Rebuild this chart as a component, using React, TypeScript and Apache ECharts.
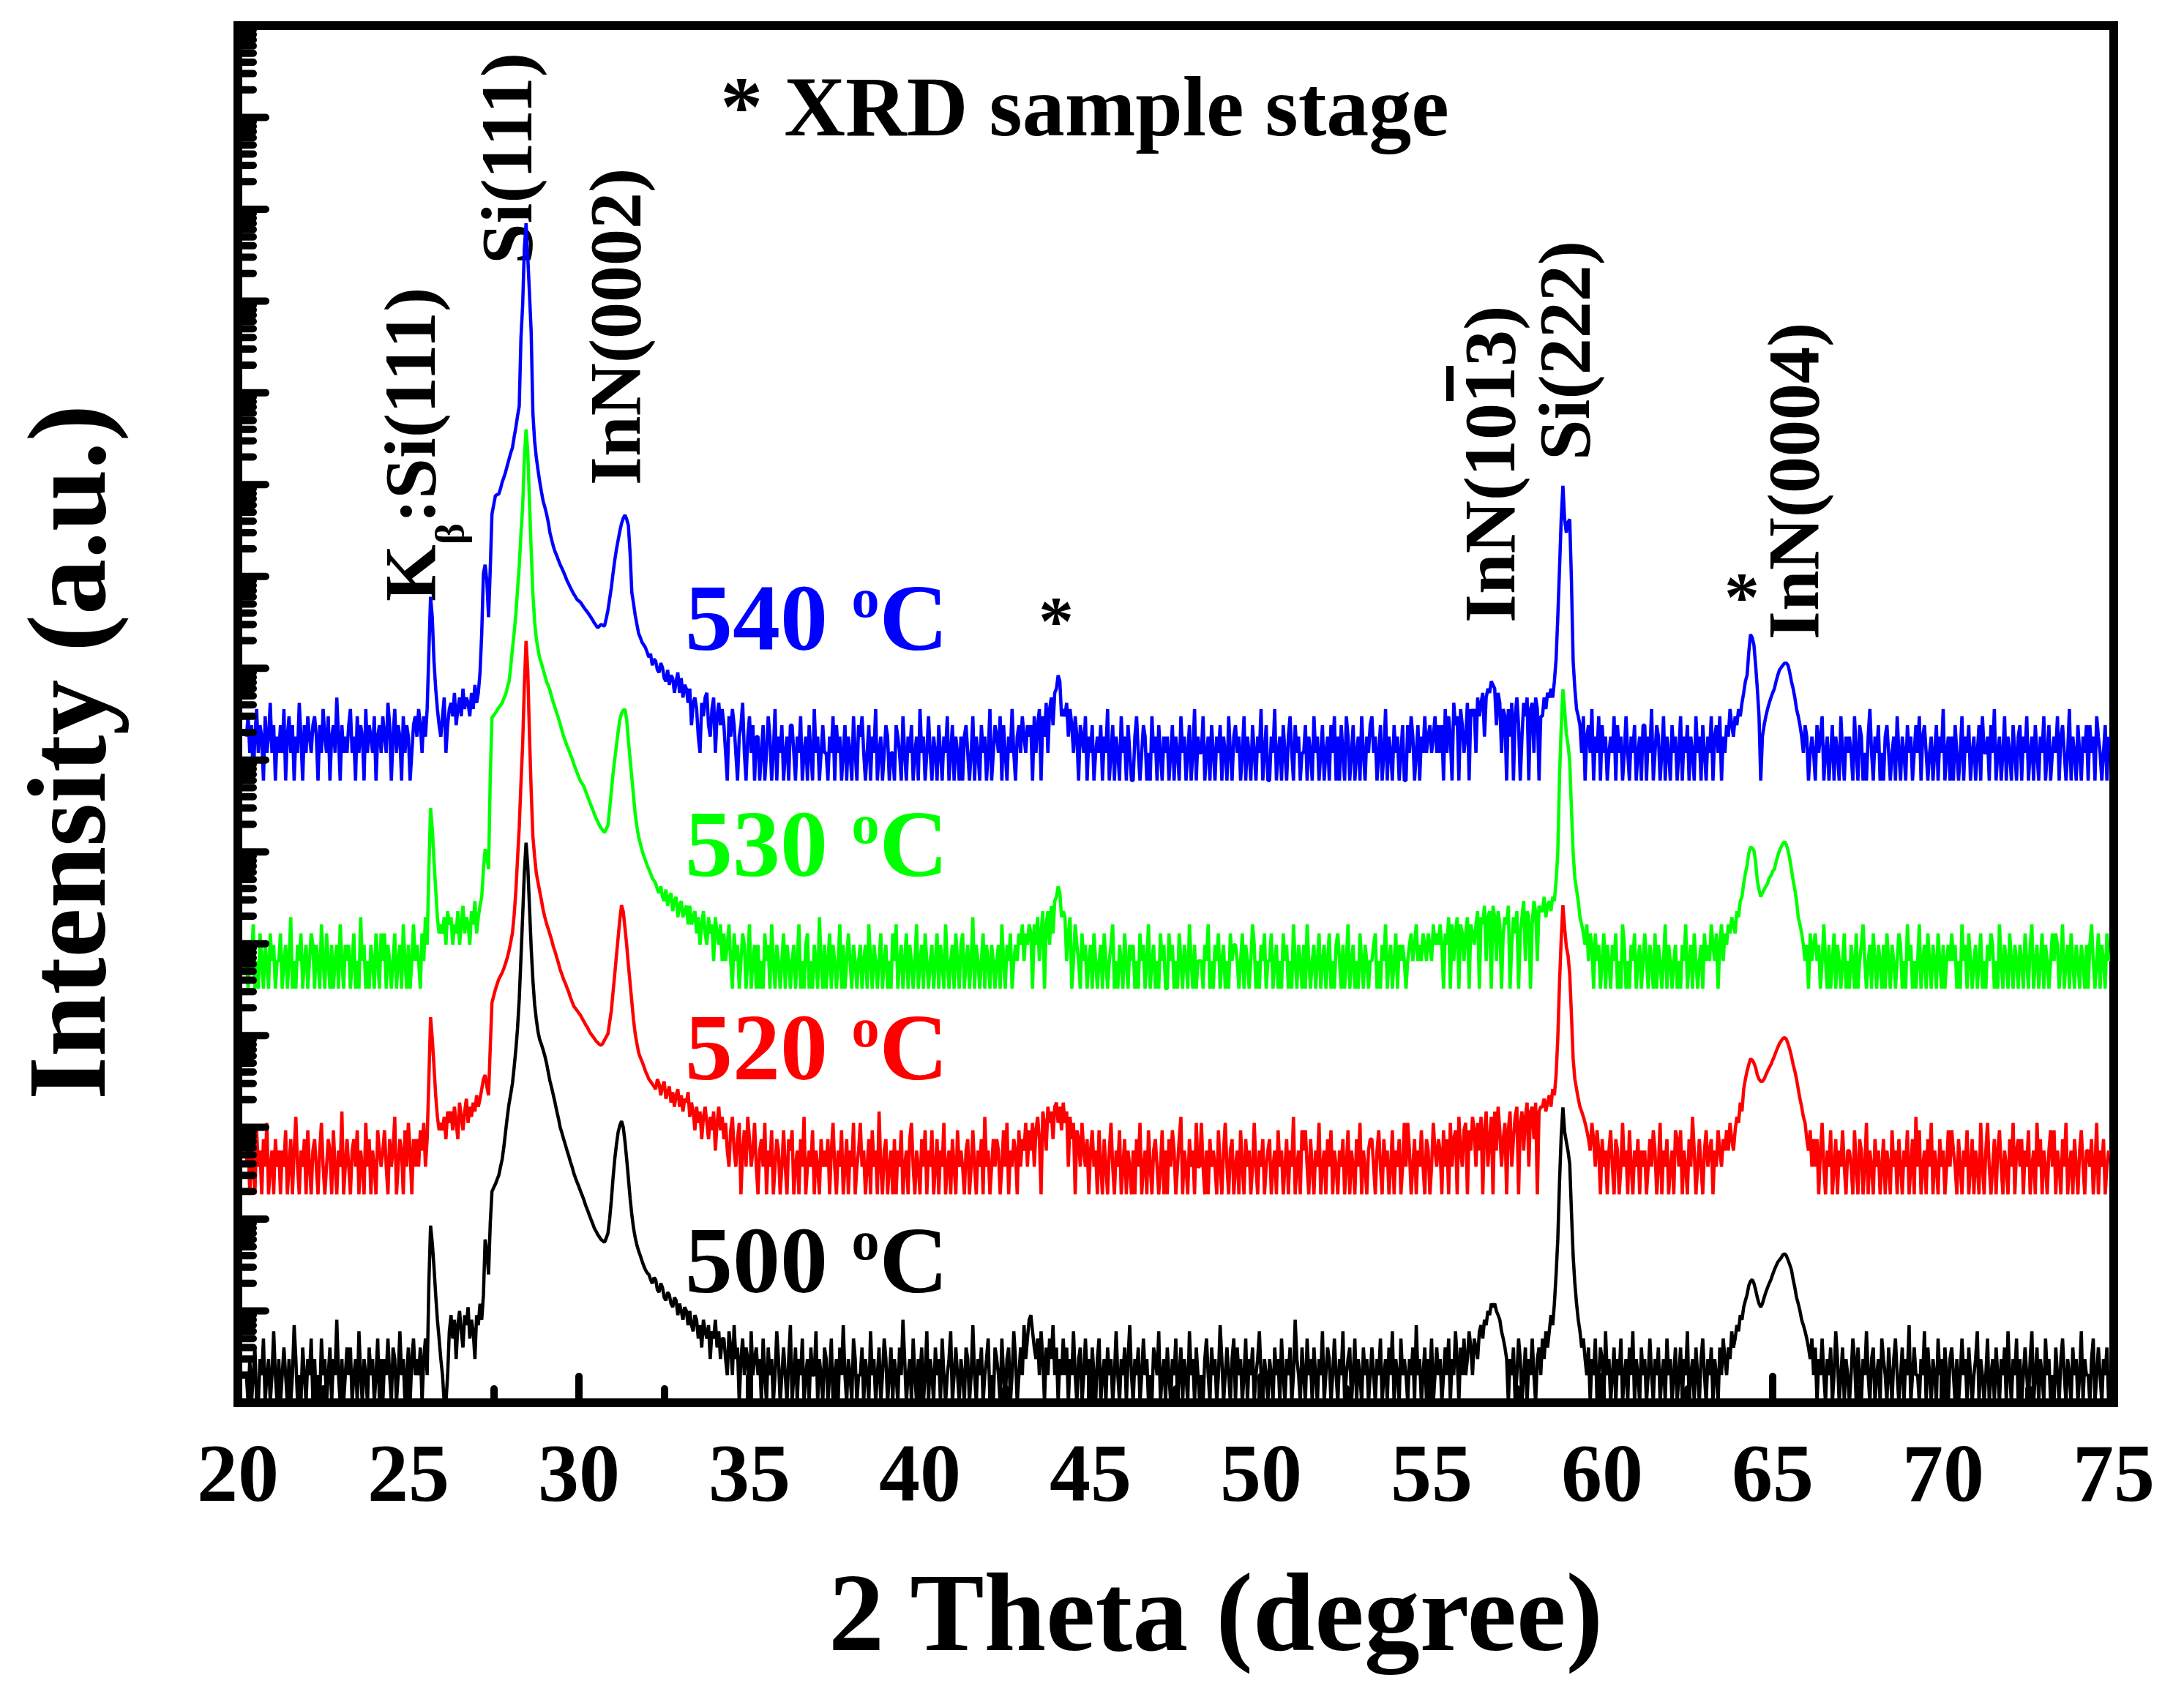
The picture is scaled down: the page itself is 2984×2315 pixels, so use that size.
import React, { useEffect, useRef } from 'react';
import * as echarts from 'echarts';

// ---- data: counts, x grid 20.25 .. 74.85 step 0.05 ----
const X_START = 20.25;
const X_STEP = 0.05;

const COUNTS_500 = [
  2,1,3,1,2,4,1,1,3,2,5,1,2,3,1,2,6,2,1,3,
  1,2,4,2,1,3,1,2,7,3,1,2,1,4,2,1,3,2,5,1,
  3,1,2,1,5,2,3,1,2,4,1,3,2,8,2,1,3,1,2,4,
  2,4,1,2,3,1,6,2,1,3,2,1,4,2,3,1,2,5,1,3,
  1,3,2,5,2,1,4,3,1,2,6,2,3,1,2,4,1,3,5,2,
  3,2,4,1,3,5,2,20,85,55,30,15,8,5,3,2,1,1,2,6,
  9,5,8,3,7,10,6,4,9,7,11,5,8,6,3,9,7,12,8,15,
  60,45,25,90,200,220,240,270,300,370,450,620,900,1300,1800,2300,3000,4500,7000,12000,
  25000,70000,200000,600000,1260000,700000,250000,90000,40000,22000,15000,11000,9000,8000,7000,6000,5000,4000,3200,2700,
  2240,1850,1500,1250,1000,870,750,650,560,490,420,370,316,280,250,225,200,180,160,140,
  126,112,100,90,80,74,68,64,60,58,56,62,70,100,160,280,450,650,890,1050,
  1170,1000,700,450,280,170,112,80,63,52,45,40,35,31,28,26,25,22,20,23,
  22,17,16,20,18,14,13,16,15,12,11,14,13,9,12,10,8,11,10,7,
  10,7,6,9,8,5,7,4,8,6,5,7,3,6,5,8,4,6,3,5,
  5,3,2,6,4,2,7,3,4,1,3,5,2,4,3,1,6,2,3,4,
  2,3,1,5,2,1,4,2,3,1,2,6,3,1,2,4,2,1,3,7,
  1,2,4,1,3,2,5,1,2,3,1,4,2,2,6,1,3,2,1,4,
  3,1,2,5,1,2,3,1,4,2,7,2,1,3,2,1,5,3,1,2,
  2,4,1,3,2,1,6,2,3,1,2,4,1,2,5,3,1,2,4,1,
  3,2,1,4,2,8,3,1,2,3,1,5,2,1,3,2,4,1,2,6,
  1,3,2,1,4,2,3,1,5,2,1,2,3,6,1,2,4,2,1,3,
  2,1,4,3,1,2,7,2,1,3,2,4,1,2,3,5,1,2,1,4,
  3,2,1,5,2,1,3,4,1,2,6,3,1,2,4,2,7,3,5,8,
  9,6,4,3,5,2,6,3,1,4,2,5,3,7,2,4,1,3,2,5,
  2,4,1,3,2,6,2,1,3,4,1,2,5,2,3,1,4,2,1,3,
  5,1,2,3,1,4,2,3,1,2,6,2,1,3,2,4,1,3,7,2,
  1,3,2,4,1,2,5,2,3,1,2,1,4,3,2,6,1,2,3,1,
  4,2,1,3,2,5,1,2,4,1,3,2,1,6,2,3,1,4,2,1,
  2,1,3,5,2,1,4,2,3,1,2,7,3,1,2,4,2,1,3,5,
  1,4,2,3,1,2,5,1,3,2,4,1,2,3,6,2,1,3,2,1,
  3,2,1,4,2,3,1,5,2,1,3,2,4,1,2,8,3,2,1,4,
  2,1,5,2,3,1,4,2,1,3,2,6,1,2,4,3,1,2,5,2,
  1,3,2,6,1,2,3,4,1,2,5,1,3,2,1,4,2,3,1,2,
  4,2,1,3,2,5,1,2,3,1,4,2,6,1,3,2,1,5,2,3,
  2,1,3,2,4,1,7,2,3,1,2,4,1,3,2,5,1,2,4,2,
  3,1,2,4,2,5,1,3,2,6,3,1,4,2,5,2,3,6,4,2,
  5,4,3,6,7,5,8,7,10,9,12,11,12,10,9,8,6,5,4,3,
  1,3,2,4,1,2,5,3,1,2,4,1,3,2,5,2,1,3,4,2,
  5,3,6,4,6,9,7,12,25,60,250,800,1650,900,700,550,400,120,40,20,
  12,8,6,4,5,3,2,4,1,3,2,5,1,2,4,3,1,6,2,3,
  1,2,4,1,3,2,5,1,2,3,1,4,2,6,1,3,2,1,4,2,
  3,1,2,5,2,1,3,2,4,1,2,3,1,5,2,3,1,2,4,1,
  2,4,1,3,2,6,1,2,3,1,4,2,1,3,5,2,1,3,2,4,
  1,3,2,1,4,2,5,3,2,4,3,6,4,5,7,6,9,8,11,13,
  15,19,21,22,20,17,14,12,11,12,14,16,18,20,22,25,28,31,34,36,
  38,41,42,40,36,32,28,22,18,14,12,10,8,7,6,5,4,3,5,2,
  4,1,3,2,5,2,1,3,2,4,1,2,6,3,1,2,4,1,3,2,
  1,2,5,3,1,4,2,1,3,2,6,2,1,3,4,1,2,3,1,5,
  3,2,1,4,2,1,3,5,2,1,2,4,1,3,2,7,1,2,4,2,
  2,1,3,2,6,1,4,2,1,3,2,1,5,2,3,1,4,2,1,3,
  4,2,1,3,1,2,5,2,3,1,4,2,1,2,3,6,1,3,2,1,
  2,5,1,2,3,1,4,2,1,3,2,4,1,6,2,1,3,2,5,1,
  3,1,2,4,2,1,3,6,1,2,4,1,3,2,1,5,2,3,1,2,
  1,4,2,1,3,5,2,1,3,2,1,4,2,3,1,2,6,1,3,2,
  2,1,3,5,1,2,4,2,1,3,2,4,1,
];

const COUNTS_520 = [
  2,4,1,3,2,1,5,2,3,1,4,2,6,1,2,3,1,4,2,3,
  1,3,2,5,1,2,4,1,3,7,2,1,3,2,4,1,5,2,1,3,
  4,2,1,3,6,2,1,2,4,3,1,5,2,1,3,2,8,1,2,4,
  2,1,3,4,2,5,1,3,2,1,6,2,4,1,3,2,1,5,3,2,
  3,5,2,1,4,2,3,7,1,2,4,3,1,5,2,6,3,1,4,2,
  4,2,5,3,6,2,4,18,85,50,25,12,7,5,6,5,7,4,8,6,
  8,5,9,6,4,10,7,5,8,11,6,9,7,10,8,12,9,11,14,18,
  20,15,12,40,123,145,170,195,220,240,260,290,330,380,450,560,700,1100,2000,4500,
  10000,30000,80000,350000,1070000,500000,100000,25000,7940,4800,3160,2500,2000,1600,1260,1050,890,780,680,590,
  500,440,380,330,280,250,220,200,178,160,140,125,112,106,100,94,89,82,76,70,
  66,60,56,53,50,47,45,43,42,44,48,52,56,75,100,160,250,400,630,1000,
  1410,1200,800,520,316,200,126,80,56,44,35,31,28,25,22,20,18,17,16,15,
  14,18,16,12,15,17,11,13,15,10,13,9,12,14,9,12,8,11,10,13,
  7,10,8,5,9,6,8,4,7,9,6,4,7,5,8,3,6,9,5,7,
  4,6,3,2,5,7,3,2,4,6,1,3,5,2,7,4,2,3,6,2,
  1,3,4,2,6,1,3,2,5,1,2,4,3,1,2,5,2,1,4,3,
  5,1,2,3,1,4,2,7,1,2,3,2,5,1,3,2,1,4,2,3,
  2,4,1,3,6,2,1,3,2,5,1,2,4,1,3,2,6,1,2,3,
  6,2,3,1,2,4,1,5,2,3,1,8,2,1,3,4,1,2,3,1,
  4,1,3,2,5,1,2,3,1,4,6,2,1,3,2,1,4,2,5,1,
  3,2,5,1,2,4,1,3,2,6,1,2,3,1,4,2,1,5,2,3,
  2,1,3,4,1,2,5,2,1,3,2,4,1,7,2,3,1,2,4,2,
  4,3,1,2,5,2,6,1,3,2,4,3,1,5,2,4,3,6,2,5,
  3,6,2,5,7,4,1,8,6,3,9,6,8,4,9,10,6,9,5,10,
  6,8,2,7,4,6,1,5,4,2,6,3,2,4,1,3,5,2,3,1,
  5,2,1,4,2,1,3,6,2,1,3,2,5,1,2,4,1,3,2,1,
  3,1,4,2,6,1,2,3,1,5,2,1,3,4,2,1,2,5,1,3,
  1,4,2,5,3,1,2,4,7,1,3,2,1,4,2,3,1,6,2,2,
  6,2,1,3,1,4,2,3,2,1,5,2,1,3,6,2,1,3,4,1,
  2,3,1,5,2,1,4,2,3,1,2,6,2,1,3,2,4,1,2,3,
  4,1,2,3,1,5,2,3,1,2,4,1,3,2,7,1,2,3,1,5,
  3,5,2,1,4,2,1,3,2,6,1,2,3,1,4,2,5,1,3,2,
  1,3,2,4,1,2,5,1,3,2,1,4,2,6,1,3,2,1,3,4,
  4,2,1,3,5,2,1,4,2,3,1,2,5,1,3,2,4,1,2,6,
  2,6,3,1,2,4,1,3,2,5,2,1,4,3,1,2,6,3,2,4,
  3,1,5,2,4,1,6,2,4,5,1,7,3,2,5,6,1,5,3,7,
  5,2,6,3,7,1,5,8,2,4,7,1,8,3,9,5,2,4,6,1,
  5,8,2,4,7,9,1,6,8,3,7,10,2,8,9,4,10,1,8,9,
  9,11,8,10,12,9,14,12,20,50,200,600,1410,800,500,400,250,90,30,18,
  14,11,9,8,7,6,5,4,3,6,4,2,5,3,1,4,2,3,1,3,
  5,2,1,4,3,1,2,6,2,3,1,5,2,1,3,2,4,1,3,2,
  3,1,2,4,2,5,3,1,2,6,1,3,2,4,1,2,3,1,5,4,
  2,5,1,3,2,1,4,2,7,3,1,2,4,2,1,3,5,2,3,4,
  1,3,2,5,3,2,4,3,5,3,6,4,3,5,7,6,10,8,14,18,
  22,26,30,29,27,24,20,18,17,17,18,20,22,24,26,29,32,36,40,44,
  47,50,51,49,44,38,32,26,22,18,14,11,9,7,6,4,3,5,2,4,
  2,4,1,3,6,2,1,3,2,5,1,2,4,1,3,2,5,2,1,3,
  3,2,1,5,2,1,4,3,1,2,6,1,3,2,1,4,2,3,1,2,
  4,1,3,2,1,5,2,3,1,4,2,1,3,2,5,1,2,4,1,7,
  2,5,1,2,3,1,4,2,6,1,3,2,1,4,2,3,1,2,5,2,
  5,3,2,1,4,2,1,3,2,5,1,2,4,1,3,2,1,6,2,1,
  3,6,2,1,2,4,1,3,5,2,1,3,2,1,4,2,6,1,3,4,
  2,4,1,3,2,5,1,2,3,1,6,2,4,1,3,2,1,3,5,2,
  5,1,3,2,1,4,2,6,1,2,3,1,4,2,1,3,5,2,1,3,
  3,2,4,1,2,6,1,3,2,4,1,2,3,
];

const COUNTS_530 = [
  2,1,3,2,5,1,2,1,4,2,1,3,2,1,4,2,3,1,2,2,
  4,1,2,3,1,2,6,1,2,1,3,2,4,1,2,3,1,2,4,3,
  1,3,2,1,5,2,1,4,2,1,3,1,2,3,1,5,2,1,3,2,
  3,1,2,4,1,2,1,6,2,3,1,2,1,3,2,1,4,2,1,4,
  2,4,1,3,2,1,2,4,1,2,3,1,5,2,1,3,1,2,5,2,
  3,2,1,4,2,6,3,20,93,55,25,12,6,4,5,4,6,3,7,5,
  6,3,5,4,7,3,5,8,4,6,5,3,7,5,9,4,6,8,10,20,
  33,28,20,200,890,950,1000,1080,1150,1220,1300,1450,1600,1900,2200,3200,5000,7500,12000,22000,
  40000,90000,180000,600000,1230000,700000,200000,60000,20000,10000,6500,5000,4000,3500,3000,2600,2200,2000,1780,1500,
  1300,1150,1000,880,760,650,560,500,440,400,355,320,280,250,224,200,180,170,158,140,
  125,112,100,90,80,72,66,60,56,53,50,55,60,90,141,220,316,450,630,850,
  1000,1080,1100,850,500,320,200,125,80,58,45,38,32,28,25,22,20,18,16,15,
  14,12,11,13,10,9,12,8,10,11,7,9,10,6,8,9,6,7,8,5,
  8,5,6,7,4,6,3,5,7,4,3,6,4,5,2,6,4,3,5,2,
  4,2,3,5,2,1,4,2,3,1,2,4,3,1,2,5,1,2,3,1,
  3,1,2,1,4,2,3,1,5,2,1,3,2,1,2,4,1,3,2,1,
  2,3,1,2,5,1,2,1,3,4,1,2,1,3,2,1,6,2,1,3,
  1,2,4,1,3,2,1,2,5,1,3,1,2,4,2,1,3,2,1,2,
  3,1,2,3,1,5,2,1,3,2,1,2,4,1,2,3,1,2,1,4,
  2,5,1,2,3,1,2,4,1,3,2,1,2,5,1,2,3,1,4,2,
  1,2,3,1,2,4,1,3,2,1,5,2,1,2,3,1,4,2,1,3,
  4,1,2,3,1,2,6,1,3,2,1,2,4,1,3,2,1,3,2,1,
  2,3,1,5,2,1,3,2,4,1,2,3,2,4,3,5,2,4,3,5,
  4,1,5,3,6,2,4,7,1,5,7,3,8,4,9,10,13,11,6,7,
  6,2,4,6,1,2,5,3,2,1,4,2,3,1,2,3,1,4,2,1,
  2,3,1,4,2,1,2,3,5,1,2,1,3,2,1,4,2,1,3,2,
  3,1,2,1,4,2,3,1,2,5,1,2,3,1,2,1,4,2,3,1,
  1,4,2,3,1,2,1,4,2,1,3,2,1,5,2,1,3,1,2,2,
  2,1,3,2,5,1,2,1,3,2,4,1,2,3,1,2,1,4,2,3,
  3,2,1,2,4,1,3,2,1,2,5,3,1,2,1,3,2,4,1,2,
  2,4,1,2,3,1,2,1,4,2,3,1,2,1,5,2,1,3,2,1,
  3,1,5,2,1,2,3,1,2,4,1,2,3,1,2,4,1,2,1,3,
  4,2,1,3,1,2,5,1,2,3,1,2,1,4,2,1,3,2,1,2,
  2,3,4,1,2,1,3,2,5,1,2,3,1,2,4,1,3,2,3,2,
  1,2,3,4,2,3,5,2,3,2,4,3,2,4,3,2,5,3,4,3,
  5,3,1,4,3,6,1,5,2,4,6,1,5,4,2,4,6,1,5,4,
  3,5,7,1,6,5,8,2,6,7,1,8,6,2,7,5,1,4,6,5,
  8,1,3,6,4,7,1,4,6,9,2,7,6,1,5,9,7,2,8,7,
  7,10,6,8,9,7,10,9,15,30,200,700,1820,1100,600,450,300,90,30,16,
  12,9,6,5,4,3,5,2,4,3,1,4,2,3,1,2,4,1,3,2,
  1,3,2,4,1,2,1,5,3,1,2,1,3,2,4,1,2,3,1,2,
  4,2,1,3,2,1,4,1,3,2,1,2,5,1,3,2,1,2,3,1,
  2,1,3,2,5,1,2,3,1,4,2,1,2,3,1,4,2,3,2,5,
  3,2,4,1,3,5,2,4,3,5,4,6,5,4,7,6,9,10,14,18,
  22,30,35,34,32,24,15,12,10,11,12,13,14,16,17,19,20,24,28,32,
  35,38,40,37,32,26,20,15,12,9,6,5,4,3,2,3,1,4,2,3,
  4,2,3,1,2,5,2,1,3,1,2,4,1,3,2,1,2,4,1,2,
  1,3,2,1,4,1,2,3,5,2,1,2,3,1,4,2,1,3,2,1,
  3,1,4,2,1,3,2,1,2,4,3,1,2,1,5,2,3,1,2,1,
  2,5,1,2,3,1,4,2,1,3,2,1,4,2,1,3,1,2,3,2,
  4,2,3,1,2,1,5,2,3,1,4,2,1,2,3,1,2,4,1,2,
  1,3,2,4,3,1,2,1,5,2,1,3,2,1,4,2,1,3,2,1,
  3,2,1,4,2,1,3,5,1,2,3,1,2,4,1,3,2,1,2,4,
  2,4,3,1,2,5,1,2,3,1,4,2,1,3,2,1,3,2,1,3,
  1,3,5,2,1,2,4,1,3,2,1,4,2,
];

const COUNTS_540 = [
  3,5,2,4,1,3,6,2,4,3,1,5,2,3,7,2,4,1,3,2,
  4,2,6,1,3,5,2,4,1,3,2,7,3,1,4,2,5,3,2,4,
  5,3,1,4,2,6,3,2,5,1,3,4,2,8,3,1,4,2,3,2,
  4,6,2,3,1,5,2,4,3,1,6,2,4,3,2,5,1,3,4,2,
  5,3,2,7,4,1,3,6,2,4,3,1,5,2,4,3,1,2,4,5,
  3,6,4,2,5,3,6,25,100,60,20,10,6,4,3,5,8,2,4,6,
  7,5,9,4,6,8,5,10,6,8,7,5,9,6,11,7,9,15,40,180,
  224,150,60,200,800,1000,1260,1300,1320,1500,1780,2000,2290,2700,3160,3700,4200,5500,7000,9300,
  12000,66000,150000,631000,1170000,500000,200000,76000,10000,5000,3300,2400,1800,1400,1100,950,800,650,500,420,
  355,310,280,250,224,205,186,168,150,138,126,116,107,100,93,90,87,81,76,72,
  68,64,60,56,52,49,46,48,50,49,48,58,71,95,126,180,250,330,417,520,
  630,720,776,700,600,300,112,85,63,50,40,36,32,30,28,25,22,24,18,21,
  20,16,15,19,17,13,12,16,11,14,13,9,12,15,9,13,8,11,10,7,
  10,4,7,8,6,3,2,7,5,8,9,4,3,6,8,2,5,7,4,6,
  4,2,1,5,3,6,4,2,1,3,4,7,2,1,3,5,2,4,1,3,
  3,1,2,4,1,2,5,3,1,2,6,1,3,2,4,1,2,3,1,4,
  4,2,1,3,2,5,1,2,3,1,4,2,1,6,2,3,1,2,4,2,
  2,1,3,2,5,1,4,2,3,1,2,4,1,3,2,1,5,2,1,4,
  3,5,2,1,2,4,1,3,2,6,1,2,3,1,2,4,3,1,2,2,
  1,4,3,2,1,5,2,1,3,2,4,1,2,3,1,6,2,3,1,2,
  5,2,1,3,2,1,4,2,1,3,2,5,1,2,4,1,3,2,1,3,
  1,3,4,2,1,2,5,1,3,2,1,4,2,3,1,2,6,1,2,4,
  3,2,5,1,4,2,1,3,2,6,2,1,3,4,2,5,3,2,4,3,
  4,1,5,2,4,6,1,5,3,7,2,6,8,4,9,10,14,12,5,6,
  5,7,3,6,4,2,5,3,1,4,3,2,5,1,3,2,4,1,2,3,
  2,4,1,3,2,6,1,2,4,1,3,2,1,5,2,3,1,4,2,1,
  1,3,5,2,1,2,4,3,1,2,1,5,2,3,1,4,2,1,3,2,
  3,1,2,4,1,3,2,1,5,2,3,1,2,4,1,2,6,1,3,2,
  2,5,1,2,3,1,4,2,1,3,2,4,1,3,2,1,5,2,1,3,
  4,2,3,1,2,5,1,3,2,1,4,2,1,3,2,6,1,2,4,1,
  1,3,2,6,1,2,3,1,4,2,1,3,5,2,1,4,2,3,1,2,
  2,4,1,3,2,1,5,2,3,1,2,4,1,2,3,1,4,2,5,1,
  3,1,4,2,1,5,3,1,2,4,1,2,3,1,5,2,1,3,2,4,
  5,2,3,1,2,4,1,2,6,1,3,2,1,4,2,3,1,2,4,1,
  1,4,2,5,3,1,2,4,1,3,2,5,2,3,4,2,3,5,2,4,
  2,4,1,6,2,5,3,1,7,4,5,1,6,4,2,3,7,1,6,5,
  6,2,8,5,7,9,3,8,10,9,12,11,10,4,9,7,2,6,5,1,
  6,3,7,1,5,8,4,1,3,7,5,8,1,6,7,2,8,6,1,5,
  5,8,6,9,8,10,8,12,21,60,200,700,1620,700,500,650,700,150,20,10,
  6,5,4,2,5,1,3,4,2,6,1,3,2,5,1,4,2,3,1,2,
  3,2,5,1,4,2,3,1,2,5,2,1,3,2,4,1,2,3,1,4,
  4,1,3,2,6,1,2,4,3,1,2,5,1,3,2,1,4,2,3,1,
  2,5,1,3,2,4,1,3,2,1,5,2,3,1,4,2,1,3,2,5,
  1,3,4,2,5,1,3,2,4,3,6,4,3,5,4,6,5,7,9,12,
  14,25,39,36,30,18,10,5,1,3,4,5,6,7,8,9,10,12,14,16,
  17,18,19,19,18,15,12,10,8,6,5,4,3,2,4,3,1,2,3,2,
  1,4,2,3,5,1,2,3,1,2,4,1,3,2,1,5,2,1,3,2,
  3,2,1,5,2,1,4,3,1,2,1,3,6,2,1,3,2,4,1,2,
  1,3,4,2,1,2,3,1,5,2,1,3,2,1,4,2,3,1,2,4,
  2,5,1,3,4,2,1,2,3,1,2,4,1,3,2,6,1,2,3,1,
  3,1,4,2,1,2,5,1,3,2,4,1,2,3,1,2,4,1,5,2,
  2,3,1,4,2,6,1,2,3,1,2,5,1,3,2,1,4,2,1,3,
  4,1,3,2,5,1,2,3,1,4,2,1,3,2,5,1,2,4,1,2,
  3,2,5,1,3,4,2,1,2,6,1,3,2,1,4,2,1,3,2,4,
  1,4,2,3,1,5,3,2,1,2,4,1,3,
];

// vertical stacking factors of the four scans (log scale offsets)
const SERIES_NAMES = ['500 oC', '520 oC', '530 oC', '540 oC'];
const SERIES_COLORS = ['#000000', '#ff0000', '#00ff00', '#0000ff'];
const SERIES_OFFSETS = [1, 186, 32400, 6.0e6];
const SERIES_COUNTS = [COUNTS_500, COUNTS_520, COUNTS_530, COUNTS_540];
const SERIES_TEMPS = ['500 ', '520 ', '530 ', '540 '];

// axes
const X_MIN = 20;
const X_MAX = 75;
const X_INTERVAL = 5;
const Y_MIN = 1;
const Y_DECADES = 15;
const Y_MINOR_MULTIPLES = [2, 3, 4, 5, 6, 7, 8, 9];

// annotations
const PEAK_LABEL_TEXTS = ['K', ':Si(111)', 'Si(111)', 'InN(0002)', 'InN(1013)', 'Si(222)', 'InN(0004)'];
const PEAK_LABEL_POS = [
  [510, 822],
  [510, 715],
  [642, 361],
  [790, 663],
  [1985, 851],
  [2087, 629],
  [2400, 874],
];
const K_BETA_SUB = '\u03B2';
const K_BETA_POS = [614, 744];
const SERIES_LABEL_POS = [
  [936, 1657],
  [936, 1366],
  [936, 1088],
  [936, 779],
];
const STAR_POS = [
  [1443, 848],
  [2380, 815],
];

const FONT = 'Liberation Serif';

function buildOption() {
  const series: any[] = SERIES_COUNTS.map((counts, s) => ({
    name: SERIES_NAMES[s],
    type: 'line',
    showSymbol: false,
    symbol: 'none',
    silent: true,
    z: 2 + s * 0.01,
    lineStyle: { color: SERIES_COLORS[s], width: 4.5 },
    data: counts.map((c, i) => [Number((X_START + i * X_STEP).toFixed(2)), c * SERIES_OFFSETS[s]]),
  }));

  const yTicks: number[][] = [];
  for (let d = 0; d <= Y_DECADES; d++) {
    const base = Math.pow(10, d) * Y_MIN;
    yTicks.push([X_MIN, base, 1]);
    if (d < Y_DECADES) {
      Y_MINOR_MULTIPLES.forEach((m) => yTicks.push([X_MIN, m * base, 0]));
    }
  }
  series.push({
    type: 'custom',
    silent: true,
    clip: false,
    z: 5,
    data: yTicks,
    renderItem: (params: any, api: any) => {
      const p = api.coord([api.value(0), api.value(1)]);
      const len = api.value(2) ? 38 : 21;
      return {
        type: 'line',
        shape: { x1: p[0], y1: p[1], x2: p[0] + len, y2: p[1] },
        style: { stroke: '#000', lineWidth: 10, lineCap: 'round' },
      };
    },
  });

  const textBase = { fontFamily: FONT, fontWeight: 'bold', fill: '#000' };
  const graphics: any[] = [];

  // axis titles
  graphics.push({
    type: 'text', x: 1661, y: 2204,
    style: { ...textBase, text: '2 Theta (degree)', fontSize: 152, align: 'center', verticalAlign: 'middle' },
  });
  graphics.push({
    type: 'text', x: 92, y: 1028, rotation: Math.PI / 2,
    style: { ...textBase, text: 'Intensity (a.u.)', fontSize: 152, align: 'center', verticalAlign: 'middle' },
  });
  graphics.push({
    type: 'text', x: 1482, y: 146,
    style: { ...textBase, text: '* XRD sample stage', fontSize: 116, align: 'center', verticalAlign: 'middle' },
  });

  // peak labels (rotated)
  PEAK_LABEL_TEXTS.forEach((t, i) => {
    graphics.push({
      type: 'text', x: PEAK_LABEL_POS[i][0], y: PEAK_LABEL_POS[i][1], rotation: Math.PI / 2,
      style: { ...textBase, text: t, fontSize: 100, lineHeight: 100, align: 'left', verticalAlign: 'top' },
    });
  });
  graphics.push({
    type: 'text', x: K_BETA_POS[0], y: K_BETA_POS[1], rotation: Math.PI / 2,
    style: { ...textBase, text: K_BETA_SUB, fontSize: 55, align: 'left', verticalAlign: 'middle' },
  });
  // overbar on InN(10-13)
  graphics.push({ type: 'rect', shape: { x: 1976, y: 500, width: 10, height: 48 }, style: { fill: '#000' } });

  // asterisks
  STAR_POS.forEach((p) => {
    graphics.push({
      type: 'text', x: p[0], y: p[1],
      style: { ...textBase, text: '*', fontSize: 96, align: 'center', verticalAlign: 'middle' },
    });
  });

  // temperature labels
  SERIES_TEMPS.forEach((t, s) => {
    const col = SERIES_COLORS[s];
    graphics.push({
      type: 'text', x: SERIES_LABEL_POS[s][0], y: SERIES_LABEL_POS[s][1],
      style: {
        ...textBase, fill: col, text: `{a|${t}}{b|o}{a|C}`, fontSize: 130, align: 'left', verticalAlign: 'top',
        rich: {
          a: { fontFamily: FONT, fontWeight: 'bold', fill: col, fontSize: 130, lineHeight: 130, verticalAlign: 'top' },
          b: { fontFamily: FONT, fontWeight: 'bold', fill: col, fontSize: 76, lineHeight: 27, verticalAlign: 'top' },
        },
      },
    });
  });

  return {
    animation: false,
    backgroundColor: '#ffffff',
    grid: {
      left: 325, right: 96, top: 35, bottom: 398,
      show: true, borderColor: '#000', borderWidth: 12, backgroundColor: 'transparent',
    },
    xAxis: {
      type: 'value', min: X_MIN, max: X_MAX, interval: X_INTERVAL,
      axisLine: { show: false },
      axisTick: { show: true, inside: true, length: 36, lineStyle: { color: '#000', width: 10, cap: 'round' } },
      minorTick: { show: true, splitNumber: 2, length: 19, lineStyle: { color: '#000', width: 10, cap: 'round' } },
      splitLine: { show: false },
      minorSplitLine: { show: false },
      axisLabel: {
        show: true, margin: 40, fontFamily: FONT, fontWeight: 'bold', fontSize: 112, lineHeight: 112, color: '#000',
        showMinLabel: true, showMaxLabel: true,
      },
    },
    yAxis: {
      type: 'log', logBase: 10, min: Y_MIN, max: Y_MIN * Math.pow(10, Y_DECADES),
      axisLine: { show: false },
      axisTick: { show: false },
      axisLabel: { show: false },
      splitLine: { show: false },
    },
    series,
    graphic: graphics,
  };
}

export default function App() {
  const ref = useRef<HTMLDivElement>(null);
  useEffect(() => {
    if (!ref.current) return;
    const chart = echarts.init(ref.current, null, { renderer: 'svg' });
    chart.setOption(buildOption() as any);
    return () => chart.dispose();
  }, []);
  return (
    <div
      ref={ref}
      style={{ position: 'absolute', left: 0, top: 0, width: 2984, height: 2315, background: '#fff' }}
    />
  );
}
